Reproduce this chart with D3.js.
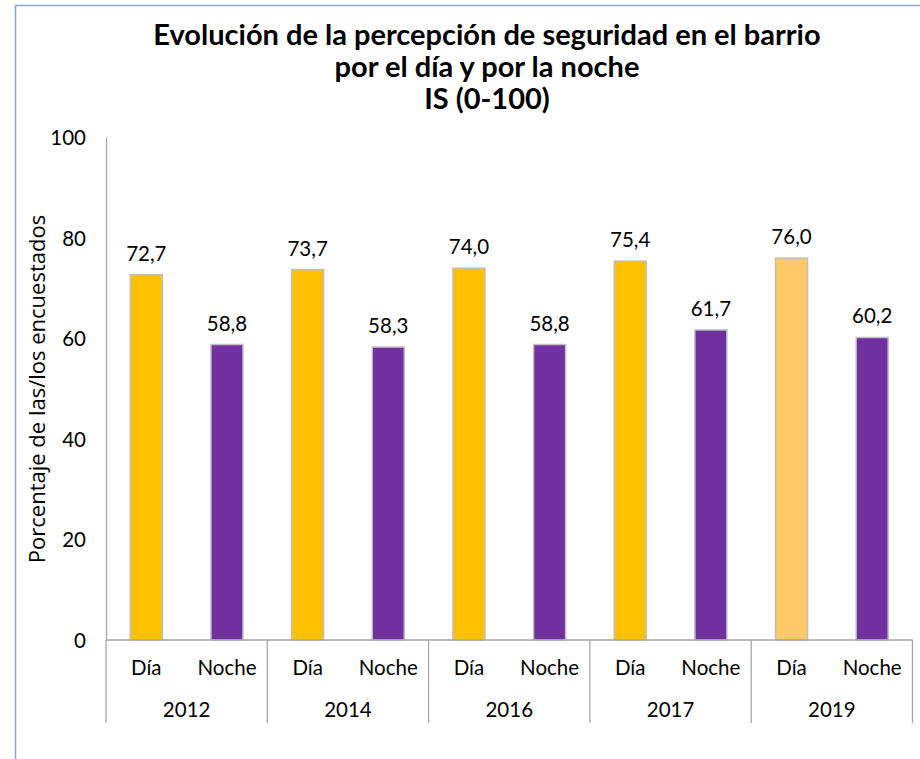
<!DOCTYPE html>
<html><head><meta charset="utf-8">
<script src="https://cdn.jsdelivr.net/npm/d3@7"></script>
<style>body{margin:0;background:#fff}svg{display:block}</style>
</head><body>
<script>
const years = ["2012","2014","2016","2017","2019"];
const periods = ["Día","Noche"];
const diaValues = [72.7, 73.7, 74.0, 75.4, 76.0];
const nocheValues = [58.8, 58.3, 58.8, 61.7, 60.2];
const yTicks = [0, 20, 40, 60, 80, 100];
const titleLines = ["Evolución de la percepción de seguridad en el barrio","por el día y por la noche","IS (0-100)"];
const yTitle = "Porcentaje de las/los encuestados";

(function(){
const W = 920, H = 759;
const svg = d3.select("body").append("svg").attr("width", W).attr("height", H);
svg.append("rect").attr("x",15.5).attr("y",5.5).attr("width",W+10).attr("height",H+10)
  .attr("fill","#fff").attr("stroke","#8ea7d2").attr("stroke-width",1.5);

const pL = 106, pR = 912.5, pT = 137.5, pB = 640;
const y = d3.scaleLinear().domain([0,100]).range([pB, pT]);
const x0 = d3.scaleBand().domain(years).range([pL, pR]).padding(0);
const x1 = d3.scaleBand().domain(periods).range([0, x0.bandwidth()]).padding(0);
const barW = 32;
const fs = 20.5;

const data = [];
years.forEach((yr,i)=>{
  data.push({year:yr, period:"Día", value:diaValues[i]});
  data.push({year:yr, period:"Noche", value:nocheValues[i]});
});
const fmt = v => d3.format(".1f")(v).replace(".", ",");
const color = d => d.period === "Día" ? (d.year === "2019" ? "#ffca66" : "#ffc000") : "#7030a0";

const t = svg.append("text").attr("text-anchor","middle").attr("font-family","Lato")
  .attr("font-weight","bold").attr("font-size",29).attr("fill","#000");
titleLines.forEach((l,i)=> t.append("tspan").attr("x",487).attr("y",45+i*32).text(l));

const yAxis = d3.axisLeft(y).tickValues(yTicks).tickSize(0).tickPadding(20);
const gy = svg.append("g").attr("transform",`translate(${pL},0)`).call(yAxis);
gy.select(".domain").attr("stroke","#a6a6a6").attr("stroke-width",1.3);
gy.selectAll("text").attr("font-family","Lato").attr("font-size",fs).attr("fill","#000").attr("dy","0.35em");

svg.append("text").attr("transform",`translate(45,389) rotate(-90)`)
  .attr("text-anchor","middle").attr("font-family","Open Sans").attr("font-size",22)
  .attr("fill","#000").text(yTitle);

const g = svg.append("g");
g.selectAll("rect.bar").data(data).join("rect").attr("class","bar")
  .attr("x", d => x0(d.year) + x1(d.period) + x1.bandwidth()/2 - barW/2)
  .attr("y", d => y(d.value))
  .attr("width", barW)
  .attr("height", d => pB - y(d.value))
  .attr("fill", color).attr("stroke","#bfbfbf").attr("stroke-width",1.5);

g.selectAll("text.val").data(data).join("text").attr("class","val")
  .attr("x", d => x0(d.year) + x1(d.period) + x1.bandwidth()/2)
  .attr("y", d => y(d.value) - 14)
  .attr("text-anchor","middle").attr("font-family","Lato").attr("font-size",fs).attr("fill","#000")
  .text(d => fmt(d.value));

svg.append("line").attr("x1",pL).attr("x2",pR).attr("y1",pB).attr("y2",pB)
  .attr("stroke","#a6a6a6").attr("stroke-width",1.3);
const seps = years.map(yr => x0(yr)).concat([pR]);
svg.selectAll("line.sep").data(seps).join("line").attr("class","sep")
  .attr("x1",d=>d).attr("x2",d=>d).attr("y1",pB).attr("y2",723)
  .attr("stroke","#a6a6a6").attr("stroke-width",1.3);

years.forEach(yr=>{
  periods.forEach(p=>{
    svg.append("text").attr("x", x0(yr)+x1(p)+x1.bandwidth()/2).attr("y",675)
      .attr("text-anchor","middle").attr("font-family","Lato").attr("font-size",fs).attr("fill","#000").text(p);
  });
  svg.append("text").attr("x", x0(yr)+x0.bandwidth()/2).attr("y",717)
    .attr("text-anchor","middle").attr("font-family","Lato").attr("font-size",fs).attr("fill","#000").text(yr);
});
})();
</script>
</body></html>
